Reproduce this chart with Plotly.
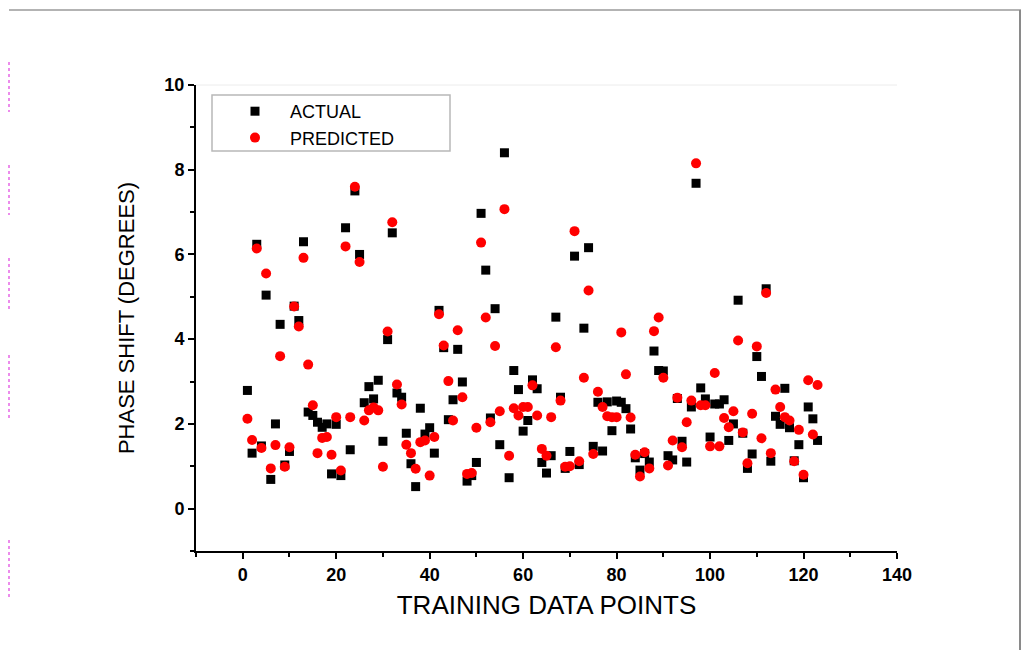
import plotly.graph_objects as go

# ---- data ----
training_points = list(range(1, 124))

actual = [
    2.79, 1.31, 6.24, 1.48, 5.04, 0.69, 2.00, 4.35, 1.03, 1.35,
    4.78, 4.44, 6.30, 2.28, 2.20, 2.04, 1.92, 2.00, 0.82, 1.99,
    0.78, 6.63, 1.39, 7.50, 6.00, 2.50, 2.88, 2.59, 3.03, 1.59,
    3.99, 6.51, 2.73, 2.63, 1.78, 1.06, 0.52, 2.37, 1.76, 1.91,
    1.31, 4.68, 3.80, 2.10, 2.57, 3.76, 2.99, 0.65, 0.78, 1.09,
    6.97, 5.63, 2.14, 4.72, 1.51, 8.40, 0.73, 3.26, 2.81, 1.83,
    2.08, 3.04, 2.83, 1.09, 0.84, 1.25, 4.52, 2.63, 0.95, 1.35,
    5.96, 1.04, 4.26, 6.16, 1.47, 2.51, 1.36, 2.52, 1.84, 2.54,
    2.51, 2.36, 1.88, 1.20, 0.91, 1.30, 1.10, 3.72, 3.26, 3.25,
    1.25, 1.15, 2.60, 1.59, 1.10, 2.40, 7.68, 2.85, 2.59, 1.69,
    2.47, 2.47, 2.57, 1.61, 2.00, 4.92, 1.78, 0.95, 1.29, 3.59,
    3.12, 5.19, 1.12, 2.18, 1.99, 2.84, 1.91, 1.13, 1.51, 0.73,
    2.40, 2.12, 1.61,
]

predicted = [
    2.12, 1.62, 6.14, 1.43, 5.55, 0.95, 1.50, 3.60, 0.99, 1.45,
    4.77, 4.30, 5.92, 3.40, 2.44, 1.31, 1.67, 1.69, 1.27, 2.16,
    0.90, 6.19, 2.16, 7.60, 5.82, 2.08, 2.32, 2.39, 2.32, 0.99,
    4.18, 6.76, 2.93, 2.46, 1.51, 1.31, 0.94, 1.57, 1.61, 0.78,
    1.69, 4.59, 3.85, 3.01, 2.08, 4.21, 2.63, 0.82, 0.84, 1.91,
    6.28, 4.51, 2.04, 3.84, 2.30, 7.07, 1.25, 2.37, 2.20, 2.40,
    2.40, 2.91, 2.20, 1.41, 1.25, 2.16, 3.81, 2.55, 0.99, 1.00,
    6.55, 1.12, 3.09, 5.15, 1.29, 2.76, 2.40, 2.18, 2.16, 2.16,
    4.16, 3.17, 2.15, 1.27, 0.76, 1.33, 0.95, 4.19, 4.51, 3.09,
    1.02, 1.61, 2.62, 1.45, 2.04, 2.55, 8.15, 2.44, 2.44, 1.47,
    3.20, 1.47, 2.14, 1.92, 2.30, 3.97, 1.80, 1.07, 2.24, 3.83,
    1.66, 5.09, 1.31, 2.81, 2.40, 2.16, 2.08, 1.12, 1.86, 0.80,
    3.03, 1.75, 2.92,
]

x_ticks = [0, 20, 40, 60, 80, 100, 120, 140]
y_ticks = [0, 2, 4, 6, 8, 10]

FONT = "Liberation Sans, Arial, sans-serif"

fig = go.Figure()
fig.add_trace(go.Scatter(
    x=training_points, y=actual, mode="markers", name="ACTUAL",
    marker=dict(symbol="square", size=9, color="#000000", line=dict(width=0)),
))
fig.add_trace(go.Scatter(
    x=training_points, y=predicted, mode="markers", name="PREDICTED",
    marker=dict(symbol="circle", size=10, color="#ff0000", line=dict(width=0)),
))

# the page body adds an 8px offset; plot area on screen: x 196..897, y 85..551
def px(xp):
    return (xp - 196) / 701.0

def py(yp):
    return (551 - yp) / 466.0

shapes = [
    # legend box
    dict(type="rect", xref="paper", yref="paper",
         x0=px(212), x1=px(450), y0=py(151), y1=py(95),
         line=dict(color="#b8b8b8", width=1.5), fillcolor="rgba(0,0,0,0)"),
    # faint top frame line
    dict(type="line", xref="paper", yref="paper",
         x0=0, x1=1, y0=1, y1=1, line=dict(color="#ececec", width=1)),
    # outer picture frame (top and right)
    dict(type="line", xref="paper", yref="paper",
         x0=px(9), x1=px(1021), y0=py(10), y1=py(10),
         line=dict(color="#9a9a9a", width=1.5)),
    dict(type="line", xref="paper", yref="paper",
         x0=px(1020), x1=px(1020), y0=py(10), y1=py(650),
         line=dict(color="#8a8a8a", width=2)),
]
for a, b in [(62, 112), (165, 215), (258, 310), (355, 420), (540, 600)]:
    shapes.append(dict(type="line", xref="paper", yref="paper",
                       x0=px(9), x1=px(9), y0=py(a), y1=py(b),
                       line=dict(color="#e040e0", width=1.2, dash="dot")))

fig.update_layout(
    width=1021, height=645,
    margin=dict(l=188, r=132, t=77, b=102),
    paper_bgcolor="white", plot_bgcolor="white",
    font=dict(family=FONT, color="black"),
    showlegend=True,
    legend=dict(
        x=px(220), y=py(93), xanchor="left", yanchor="top",
        bgcolor="rgba(0,0,0,0)", borderwidth=0,
        font=dict(family=FONT, size=18, color="black"),
        itemwidth=60, tracegroupgap=0,
    ),
    shapes=shapes,
    xaxis=dict(
        range=[-10, 140], tickvals=x_ticks, ticktext=[str(v) for v in x_ticks],
        showgrid=False, zeroline=False,
        showline=True, linecolor="black", linewidth=2,
        ticks="outside", ticklen=6, tickwidth=2, tickcolor="black",
        minor=dict(ticks="outside", dtick=10, tick0=0, ticklen=4,
                   tickwidth=2, tickcolor="black"),
        tickfont=dict(family=FONT, size=18, color="black", weight="bold"),
        title=dict(text="TRAINING DATA POINTS", standoff=12,
                   font=dict(family=FONT, size=26, color="black")),
    ),
    yaxis=dict(
        range=[-1, 10], tickvals=y_ticks, ticktext=[str(v) for v in y_ticks],
        showgrid=False, zeroline=False,
        showline=True, linecolor="black", linewidth=2,
        ticks="outside", ticklen=6, tickwidth=2, tickcolor="black",
        minor=dict(ticks="outside", dtick=1, tick0=0, ticklen=4,
                   tickwidth=2, tickcolor="black"),
        tickfont=dict(family=FONT, size=18, color="black", weight="bold"),
        title=dict(text="PHASE SHIFT (DEGREES)", standoff=24,
                   font=dict(family=FONT, size=22, color="black")),
    ),
)

fig.write_html("out.html")
